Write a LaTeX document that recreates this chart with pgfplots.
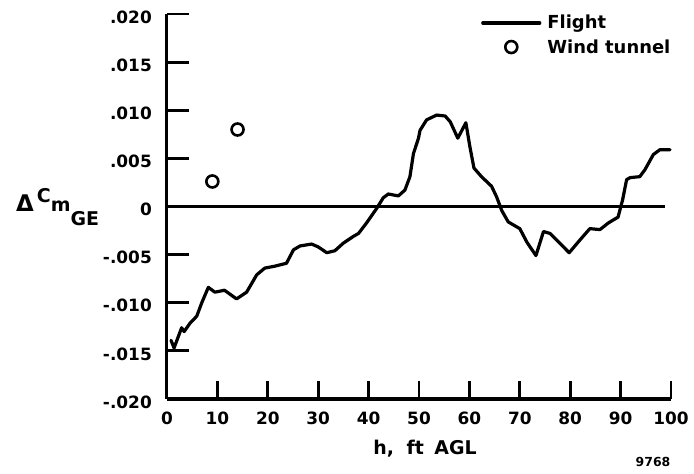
\documentclass[border=0pt]{standalone}
\usepackage{pgfplots}
\pgfplotsset{compat=1.18}
\usepackage{fontspec}
\setmainfont{DejaVu Sans}
\newcommand{\fs}[1]{\fontsize{#1}{#1}\selectfont\bfseries}
\pgfplotsset{
  linelegend/.style={legend image code/.code={\draw[##1] (0bp,0bp) -- (57bp,0bp);}},
  marklegend/.style={legend image code/.code={\draw[##1] plot coordinates {(28.5bp,0bp)};}},
}
\begin{document}
\begin{tikzpicture}
\begin{axis}[
  at={(0,0)}, anchor=south west,
  scale only axis, width=504bp, height=385bp,
  xmin=0, xmax=100, ymin=-0.02, ymax=0.02,
  axis x line*=bottom, axis y line*=left,
  axis line style={line width=3bp},
  major tick length=0pt,
  xtick={0,10,...,100},
  xticklabels={0,10,20,30,40,50,60,70,80,90,100},
  ytick={-0.02,-0.015,-0.01,-0.005,0,0.005,0.01,0.015,0.02},
  yticklabels={-.020,-.015,-.010,-.005,0,.005,.010,.015,.020},
  scaled y ticks=false,
  tick label style={font=\fs{17}},
  yticklabel style={inner sep=0pt, anchor=east, xshift=-15bp, yshift=-3bp},
  xticklabel style={inner sep=0pt, anchor=north, yshift=-13bp},
  legend style={at={(0.623,0.997)}, anchor=north west, draw=none, fill=none,
     font=\fs{18}, inner sep=0pt, row sep=9bp, column sep=0bp,
     nodes={inner sep=0bp, anchor=west}},
  legend cell align=left,
  unbounded coords=jump,
  clip=false,
]
\addplot[black, line width=3.2bp, line join=round, line cap=round, linelegend]
coordinates {
(0.8,-0.0139) (1.4,-0.0147) (2.9,-0.0126) (3.4,-0.0130) (4.6,-0.0121)
(5.9,-0.0114) (6.9,-0.0100) (8.2,-0.0084) (9.5,-0.0089) (11.4,-0.0087)
(13.8,-0.0096) (15.8,-0.0089) (17.8,-0.0071) (19.4,-0.0064) (21.4,-0.0062)
(23.7,-0.0059) (25.1,-0.0045) (26.4,-0.0041) (28.7,-0.0039) (30.0,-0.0042)
(31.7,-0.0048) (33.3,-0.0046) (35.0,-0.0038) (37.0,-0.0031) (38.0,-0.0028)
(39.6,-0.0017) (41.6,-0.0002) (42.9,0.0009) (43.9,0.0013) (45.9,0.0011)
(47.2,0.0017) (48.2,0.0031) (48.9,0.0055) (49.9,0.0071) (50.2,0.0079)
(51.5,0.0090) (53.5,0.0095) (55.2,0.0094) (56.2,0.0088) (57.7,0.0071)
(58.5,0.0079) (59.3,0.0087) (60.1,0.0062) (60.9,0.0040) (62.4,0.0031)
(64.4,0.0021) (65.4,0.0010) (66.4,-0.0004) (67.7,-0.0016) (70.0,-0.0023)
(71.4,-0.0037) (73.2,-0.0051) (74.7,-0.0026) (76.0,-0.0028) (79.8,-0.0048)
(81.9,-0.0035) (83.9,-0.0023) (85.9,-0.0024) (87.6,-0.0017) (89.5,-0.0011)
(90.4,0.0007) (91.2,0.0028) (91.9,0.0030) (93.8,0.0031) (94.8,0.0038)
(96.5,0.0054) (97.8,0.0059) (99.8,0.0059)
};
\addlegendentry{\hspace{6bp}Flight}
\addplot[only marks, mark=o, mark size=6bp, black, line width=2.6bp, marklegend]
coordinates {(9,0.0026) (14,0.0080)};
\addlegendentry{\hspace{6bp}Wind tunnel}
\addplot[black, line width=3.4bp, forget plot] coordinates {(0,0) (98.8,0)};
\end{axis}
% tick marks as small filled bars (axis furniture): 50.4bp per 10 x-units, 48.125bp per 0.005
\foreach \i in {1,...,10} {
  \fill[black] ({\i*50.4bp-1.4bp},0bp) rectangle ({\i*50.4bp+1.4bp},18bp);
}
\foreach \j in {1,2,3,5,6,7,8} {
  \fill[black] (0bp,{\j*48.125bp-1.4bp}) rectangle (22bp,{\j*48.125bp+1.4bp});
}
\node[anchor=base west, inner sep=0pt] at (-151bp,187bp)
  {\fs{19}{\fontsize{23}{23}\selectfont Δ}\hspace{3bp}\raisebox{9bp}{C}m\raisebox{-14bp}{GE}};
\node[anchor=base, inner sep=0pt] at (258bp,-55bp)
  {\fs{19}h,\hspace{6bp} ft\hspace{4bp} AGL};
\node[anchor=center, inner sep=0pt] at (486bp,-63bp) {\fs{12.5}9768};
\pgfresetboundingbox
\useasboundingbox (-167bp,-75bp) rectangle (527bp,399bp);
\end{tikzpicture}
\end{document}
